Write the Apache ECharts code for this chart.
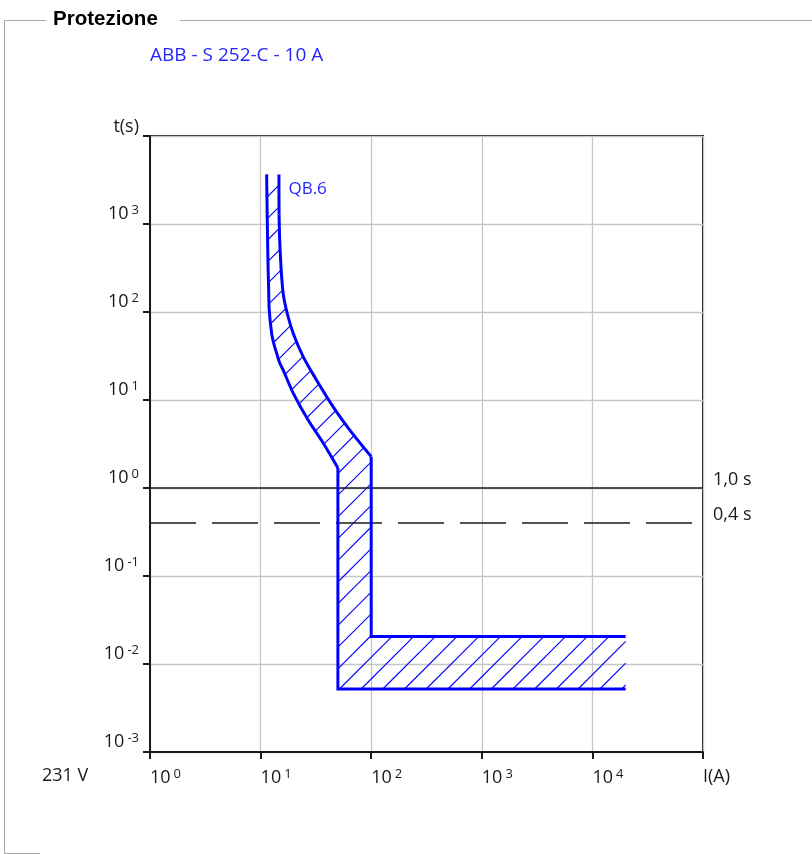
<!DOCTYPE html>
<html>
<head>
<meta charset="utf-8">
<script src="https://cdn.jsdelivr.net/npm/echarts@6/dist/echarts.min.js"></script>
<style>
  html, body { margin: 0; padding: 0; background: #ffffff; }
  #chart { width: 812px; height: 854px; }
</style>
</head>
<body>
<div id="chart"></div>
<script>
// Time-current characteristic of the protective device (I in A, t in s)
const groupTitle = 'Protezione';
const deviceName = 'ABB - S 252-C - 10 A';
const curveLabel = 'QB.6';
const supplyVoltage = '231 V';
const xAxisName = 'I(A)';
const yAxisName = 't(s)';

// Non-tripping (lower) boundary
const lowerCurrent = [11.34, 11.48, 11.65, 11.83, 11.97, 12.58, 13.2, 13.96, 14.8, 16.01, 19.72, 26.9, 36.8, 50, 50, 20000];
const lowerTime    = [3660, 1200, 387, 176.6, 105, 57.4, 43.1, 34.1, 26.9, 21.8, 11.97, 5.91, 3.24, 1.69, 0.0052, 0.0052];

// Tripping (upper) boundary
const upperCurrent = [14.65, 14.7, 15.17, 16.0, 17.4, 19.7, 24.3, 32.1, 45.3, 64.1, 100, 100, 20000];
const upperTime    = [3660, 1200, 387, 163, 96.8, 57.4, 30.9, 16.8, 8.37, 4.55, 2.27, 0.0205, 0.0205];

// Reference disconnection times
const refTimes  = [1.0, 0.4];
const refLabels = ['1,0 s', '0,4 s'];

// Axis extents (decades)
const xRange = [1, 1e5];
const yRange = [1e-3, 1e4];

const FONT = '"Open Sans", "Noto Sans", sans-serif';
const BLUE = '#0000ff';
const INK = '#1a1a1a';

const zip = (a, b) => a.map((v, i) => [v, b[i]]);
const lowerData = zip(lowerCurrent, lowerTime);
const upperData = zip(upperCurrent, upperTime);
// thermal (curved) part ends where the magnetic (instantaneous) part begins
const lowerBend = lowerData.length - 2;
const upperBend = upperData.length - 2;
// Closed band between both boundaries, hatched
const bandPolygon = lowerData.concat(upperData.slice().reverse());

const powRich = {
  b: { fontSize: 18, fontFamily: FONT, color: INK },
  s: { fontSize: 13, fontFamily: FONT, color: INK, padding: [0, 0, 7, 3] }
};
function powerLabel(value, endName) {
  const e = Math.round(Math.log10(value));
  if (endName !== null) return '{b|' + endName + '}';
  return '{b|10}{s|' + e + '}';
}

function boundarySeries(data, extra) {
  return Object.assign({
    type: 'line', z: 4, silent: true,
    data: data,
    showSymbol: false, symbol: 'none',
    lineStyle: { color: BLUE, width: 3, join: 'round' }
  }, extra || {});
}

const chart = echarts.init(document.getElementById('chart'), null, { renderer: 'canvas' });

const option = {
  animation: false,
  backgroundColor: '#ffffff',
  grid: {
    left: 150, right: 109, top: 136, bottom: 102,
    show: true, borderColor: INK, borderWidth: 2, backgroundColor: 'transparent'
  },
  xAxis: {
    type: 'log', logBase: 10, min: xRange[0], max: xRange[1], splitNumber: 5,
    axisLine: { show: true, lineStyle: { color: INK, width: 2 } },
    axisTick: { show: true, length: 7, lineStyle: { color: INK, width: 2 } },
    minorTick: { show: false },
    splitLine: { show: true, lineStyle: { color: '#c6c6c6', width: 1.3 } },
    axisLabel: {
      show: true, showMinLabel: true, showMaxLabel: true, hideOverlap: false,
      align: 'left', verticalAlign: 'top', margin: 16,
      formatter: function (v) {
        return powerLabel(v, Math.round(Math.log10(v)) === 5 ? xAxisName : null);
      },
      rich: powRich
    }
  },
  yAxis: {
    type: 'log', logBase: 10, min: yRange[0], max: yRange[1], splitNumber: 7,
    axisLine: { show: true, lineStyle: { color: INK, width: 2 } },
    axisTick: { show: true, length: 7, lineStyle: { color: INK, width: 2 } },
    minorTick: { show: false },
    splitLine: { show: true, lineStyle: { color: '#c6c6c6', width: 1.3 } },
    axisLabel: {
      show: true, showMinLabel: true, showMaxLabel: true, hideOverlap: false,
      align: 'right', verticalAlign: 'bottom', margin: 11,
      formatter: function (v) {
        return powerLabel(v, Math.round(Math.log10(v)) === 4 ? yAxisName : null);
      },
      rich: powRich
    }
  },
  graphic: [
    // group box frame
    { type: 'line', silent: true, shape: { x1: 4.5, y1: 20.5, x2: 46, y2: 20.5 }, style: { stroke: '#a8a8a8', lineWidth: 1 } },
    { type: 'line', silent: true, shape: { x1: 180, y1: 20.5, x2: 812, y2: 20.5 }, style: { stroke: '#a8a8a8', lineWidth: 1 } },
    { type: 'line', silent: true, shape: { x1: 4.5, y1: 20.5, x2: 4.5, y2: 853.5 }, style: { stroke: '#a8a8a8', lineWidth: 1 } },
    { type: 'line', silent: true, shape: { x1: 4.5, y1: 853.5, x2: 40, y2: 853.5 }, style: { stroke: '#a8a8a8', lineWidth: 1 } },
    { type: 'text', silent: true, x: 53, y: 19.5,
      style: { text: groupTitle, fill: '#000000', font: 'bold 20.5px "Liberation Sans", Arial, sans-serif', textVerticalAlign: 'middle', verticalAlign: 'middle' } },
    { type: 'text', silent: true, x: 150, y: 55.5,
      style: { text: deviceName, fill: '#2626ff', font: '19px ' + FONT, textVerticalAlign: 'middle', verticalAlign: 'middle' } },
    { type: 'text', silent: true, x: 42, y: 776,
      style: { text: supplyVoltage, fill: INK, font: '18px ' + FONT, textVerticalAlign: 'middle', verticalAlign: 'middle' } }
  ],
  series: [
    {
      // hatching between the two boundaries
      type: 'custom',
      z: 2,
      silent: true,
      data: [[1, 1]],
      encode: { x: 0, y: 1 },
      renderItem: function (params, api) {
        const pts = bandPolygon.map(function (p) { return api.coord(p); });
        const step = 21.7, phase = 1202;
        let cmin = Infinity, cmax = -Infinity;
        pts.forEach(function (p) {
          const c = p[0] + p[1];
          if (c < cmin) cmin = c;
          if (c > cmax) cmax = c;
        });
        const children = [];
        let c = Math.ceil((cmin - phase) / step) * step + phase;
        for (; c <= cmax; c += step) {
          const xs = [];
          for (let i = 0; i < pts.length; i++) {
            const a = pts[i], b = pts[(i + 1) % pts.length];
            const fa = a[0] + a[1] - c, fb = b[0] + b[1] - c;
            if ((fa < 0) !== (fb < 0)) {
              const t = fa / (fa - fb);
              xs.push(a[0] + t * (b[0] - a[0]));
            }
          }
          xs.sort(function (u, v) { return u - v; });
          for (let k = 0; k + 1 < xs.length; k += 2) {
            children.push({
              type: 'line',
              shape: { x1: xs[k], y1: c - xs[k], x2: xs[k + 1], y2: c - xs[k + 1] },
              style: { stroke: BLUE, lineWidth: 1.1 }
            });
          }
        }
        return { type: 'group', children: children };
      }
    },
    {
      type: 'line', z: 3, silent: true,
      data: zip([xRange[0], xRange[1]], [refTimes[0], refTimes[0]]),
      showSymbol: false, symbol: 'none',
      lineStyle: { color: INK, width: 1.5, type: 'solid' },
      endLabel: { show: true, formatter: refLabels[0], distance: 10, offset: [0, -8],
        color: INK, fontSize: 18, fontFamily: FONT }
    },
    {
      type: 'line', z: 3, silent: true,
      data: zip([xRange[0], xRange[1]], [refTimes[1], refTimes[1]]),
      showSymbol: false, symbol: 'none',
      lineStyle: { color: INK, width: 1.3, type: [46, 16] },
      endLabel: { show: true, formatter: refLabels[1], distance: 10, offset: [0, -8],
        color: INK, fontSize: 18, fontFamily: FONT }
    },
    // curved (thermal) parts, smoothed
    boundarySeries(lowerData.slice(0, lowerBend), { smooth: 0.3 }),
    boundarySeries(upperData.slice(0, upperBend), {
      smooth: 0.3,
      markPoint: {
        symbol: 'circle', symbolSize: 1, silent: true,
        itemStyle: { color: 'rgba(0,0,0,0)' },
        data: [{
          coord: [upperCurrent[0], upperTime[0]],
          label: { show: true, formatter: curveLabel, position: 'right', distance: 9, offset: [0, 15],
            color: '#2626ff', fontSize: 17, fontFamily: FONT }
        }]
      }
    }),
    // straight (instantaneous) parts
    boundarySeries(lowerData.slice(lowerBend - 1), { lineStyle: { color: BLUE, width: 3, join: 'miter' } }),
    boundarySeries(upperData.slice(upperBend - 1), { lineStyle: { color: BLUE, width: 3, join: 'miter' } })
  ]
};

chart.setOption(option);
</script>
</body>
</html>
